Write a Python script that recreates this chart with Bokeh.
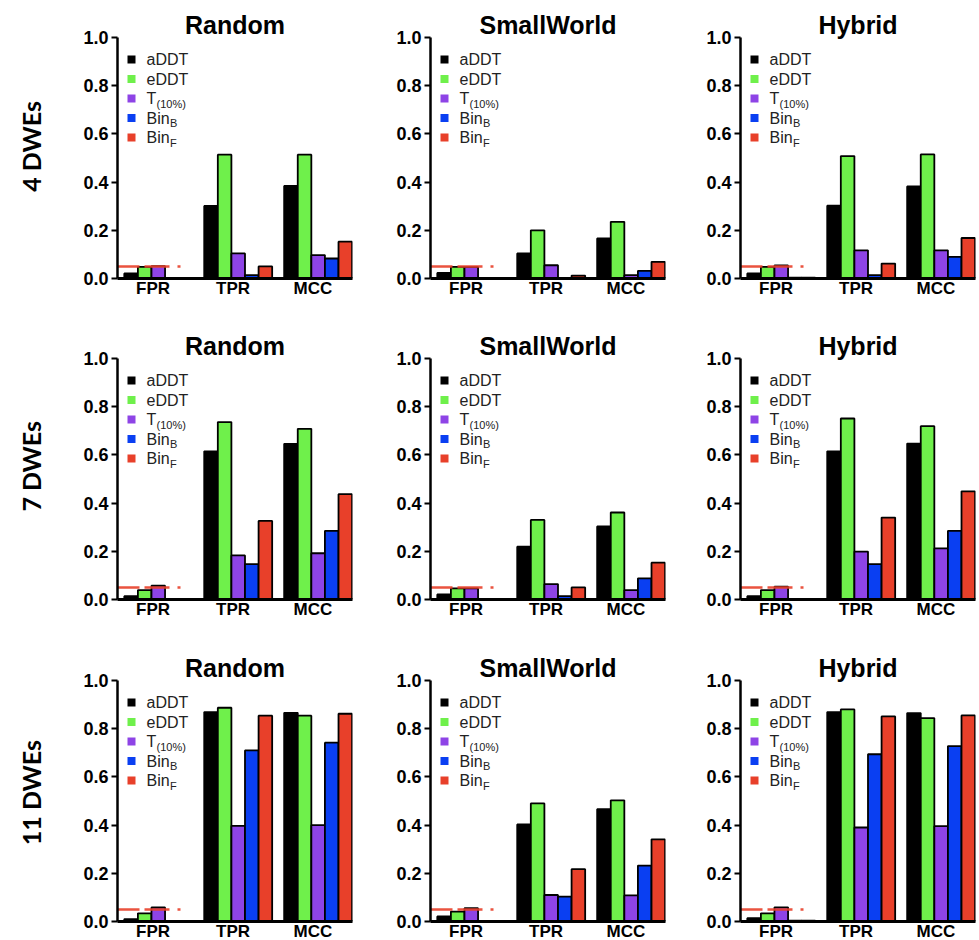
import math
from bokeh.plotting import figure
from bokeh.layouts import row, column
from bokeh.models import Range1d, FixedTicker, PrintfTickFormatter
from bokeh.core.properties import value
from bokeh.embed import file_html
from bokeh.resources import INLINE

# ---------------- data ----------------
metrics = ["FPR", "TPR", "MCC"]
methods = ["aDDT", "eDDT", "T(10%)", "BinB", "BinF"]
legend_main = ["aDDT", "eDDT", "T", "Bin", "Bin"]
legend_sub = ["", "", "(10%)", "B", "F"]
topologies = ["Random", "SmallWorld", "Hybrid"]
row_labels = ["4 DWEs", "7 DWEs", "11 DWEs"]
y_ticks = [0.0, 0.2, 0.4, 0.6, 0.8, 1.0]
fpr_target = 0.05

# each list: [FPR, TPR, MCC]
dwe4_random = {
    "aDDT": [0.021, 0.301, 0.384],
    "eDDT": [0.048, 0.514, 0.514],
    "T(10%)": [0.051, 0.104, 0.097],
    "BinB": [0.003, 0.014, 0.083],
    "BinF": [0.003, 0.050, 0.153],
}
dwe4_smallworld = {
    "aDDT": [0.023, 0.104, 0.166],
    "eDDT": [0.048, 0.200, 0.235],
    "T(10%)": [0.048, 0.055, 0.014],
    "BinB": [0.003, 0.003, 0.032],
    "BinF": [0.003, 0.012, 0.069],
}
dwe4_hybrid = {
    "aDDT": [0.021, 0.302, 0.382],
    "eDDT": [0.048, 0.508, 0.515],
    "T(10%)": [0.054, 0.117, 0.117],
    "BinB": [0.004, 0.014, 0.090],
    "BinF": [0.004, 0.062, 0.168],
}
dwe7_random = {
    "aDDT": [0.014, 0.615, 0.646],
    "eDDT": [0.039, 0.736, 0.708],
    "T(10%)": [0.057, 0.183, 0.192],
    "BinB": [0.003, 0.147, 0.285],
    "BinF": [0.003, 0.326, 0.437],
}
dwe7_smallworld = {
    "aDDT": [0.021, 0.219, 0.303],
    "eDDT": [0.046, 0.330, 0.361],
    "T(10%)": [0.046, 0.064, 0.039],
    "BinB": [0.003, 0.014, 0.088],
    "BinF": [0.003, 0.050, 0.153],
}
dwe7_hybrid = {
    "aDDT": [0.014, 0.615, 0.647],
    "eDDT": [0.039, 0.751, 0.719],
    "T(10%)": [0.053, 0.199, 0.212],
    "BinB": [0.003, 0.147, 0.285],
    "BinF": [0.003, 0.340, 0.449],
}
dwe11_random = {
    "aDDT": [0.010, 0.869, 0.866],
    "eDDT": [0.034, 0.887, 0.854],
    "T(10%)": [0.058, 0.397, 0.400],
    "BinB": [0.003, 0.710, 0.742],
    "BinF": [0.003, 0.854, 0.862],
}
dwe11_smallworld = {
    "aDDT": [0.021, 0.403, 0.466],
    "eDDT": [0.041, 0.490, 0.503],
    "T(10%)": [0.055, 0.110, 0.108],
    "BinB": [0.003, 0.103, 0.232],
    "BinF": [0.003, 0.217, 0.341],
}
dwe11_hybrid = {
    "aDDT": [0.014, 0.869, 0.865],
    "eDDT": [0.034, 0.880, 0.844],
    "T(10%)": [0.059, 0.390, 0.396],
    "BinB": [0.004, 0.694, 0.728],
    "BinF": [0.004, 0.851, 0.855],
}

panels = [
    [dwe4_random, dwe4_smallworld, dwe4_hybrid],
    [dwe7_random, dwe7_smallworld, dwe7_hybrid],
    [dwe11_random, dwe11_smallworld, dwe11_hybrid],
]

# ---------------- style ----------------
colors = ["#000000", "#6ff04b", "#8e44e6", "#0a3ff2", "#e8402a"]
FONT = "Liberation Sans"
FRAME_W = 235
FRAME_H = 241
LABEL_SHIFT = 0.065          # category labels sit slightly left of bar groups
X_START = LABEL_SHIFT - 0.51
X_END = LABEL_SHIFT + 2.43
BAR_W = 0.17
offsets = [-0.34, -0.17, 0.0, 0.17, 0.34]
ppx = (X_END - X_START) / FRAME_W   # data units per pixel (x)
ppy = 1.0 / FRAME_H                  # data units per pixel (y)
right_borders = [33, 30, 2]
top_border = 37
bottom_borders = [43, 44, 18]
label_fig_w = 72
label_y = [145, 144, 140]


def make_panel(data, title, col, r):
    p = figure(
        frame_width=FRAME_W, frame_height=FRAME_H,
        x_range=Range1d(X_START, X_END), y_range=Range1d(0, 1.0),
        toolbar_location=None, output_backend="svg", title=title,
        min_border_left=45, min_border_right=right_borders[col],
        min_border_top=top_border, min_border_bottom=bottom_borders[r],
    )
    p.outline_line_color = None
    p.grid.visible = False
    p.background_fill_color = "white"
    p.border_fill_color = "white"

    p.title.align = "center"
    p.title.text_font = FONT
    p.title.text_font_style = "bold"
    p.title.text_font_size = "25px"
    p.title.text_color = "black"
    p.title.standoff = -2

    # bars
    for i, m in enumerate(methods):
        xs = [j + LABEL_SHIFT + offsets[i] for j in range(len(metrics))]
        p.vbar(x=xs, top=data[m], bottom=0, width=BAR_W,
               fill_color=colors[i], line_color="black", line_width=1.8)

    # FPR target line
    p.line(x=[X_START, LABEL_SHIFT + 0.28], y=[fpr_target, fpr_target],
           line_color="#e8402a", line_width=2.5, line_alpha=0.9,
           line_dash="22 5 25 8 3 8")

    # legend (manual, to allow subscripts)
    sq_x = X_START + 14 * ppx
    tx_x = X_START + 29 * ppx
    ys = [1.0 - (22 + 19.5 * k) * ppy for k in range(len(methods))]
    p.scatter(x=[sq_x] * len(methods), y=ys, marker="square", size=8,
              fill_color=colors, line_color=None)
    p.text(x=[tx_x] * len(methods), y=ys, text=legend_main,
           text_font=value(FONT), text_font_size="16px",
           text_color="#222222", text_baseline="middle", text_align="left")
    sub_dx = {"T": 10.0, "Bin": 23.5}
    sx, sy, st = [], [], []
    for k in range(len(methods)):
        if legend_sub[k]:
            sx.append(tx_x + sub_dx[legend_main[k]] * ppx)
            sy.append(ys[k] - 5 * ppy)
            st.append(legend_sub[k])
    p.text(x=sx, y=sy, text=st, text_font=value(FONT), text_font_size="11px",
           text_color="#222222", text_baseline="middle", text_align="left")

    # axes
    ya = p.yaxis[0]
    ya.ticker = FixedTicker(ticks=y_ticks)
    ya.formatter = PrintfTickFormatter(format="%.1f")
    ya.major_label_text_font = FONT
    ya.major_label_text_font_style = "bold"
    ya.major_label_text_font_size = "18px"
    ya.major_label_text_color = "black"
    ya.major_tick_out = 6
    ya.major_tick_in = 0
    ya.major_tick_line_width = 2
    ya.minor_tick_line_color = None
    ya.axis_line_width = 2.5
    ya.major_label_standoff = 3

    xa = p.xaxis[0]
    xa.ticker = FixedTicker(ticks=list(range(len(metrics))))
    xa.major_label_overrides = {j: m for j, m in enumerate(metrics)}
    xa.major_label_text_font = FONT
    xa.major_label_text_font_style = "bold"
    xa.major_label_text_font_size = "17px"
    xa.major_label_text_color = "black"
    xa.major_tick_out = 0
    xa.major_tick_in = 0
    xa.minor_tick_line_color = None
    xa.axis_line_width = 3
    xa.major_label_standoff = 0
    return p


def make_label(text, h, yc):
    f = figure(width=label_fig_w, height=h, x_range=Range1d(0, label_fig_w),
               y_range=Range1d(h, 0), x_axis_type=None, y_axis_type=None,
               toolbar_location=None, output_backend="svg", min_border=0,
               title=None)
    f.outline_line_color = None
    f.grid.visible = False
    f.text(x=[30], y=[yc], text=[text], angle=math.pi / 2,
           text_align="center", text_baseline="middle",
           text_font=value("Lato"), text_font_style="bold",
           text_font_size="25px", text_color="black")
    return f


rows = []
for r in range(3):
    h = top_border + FRAME_H + bottom_borders[r]
    figs = [make_label(row_labels[r], h, label_y[r])]
    for c in range(3):
        figs.append(make_panel(panels[r][c], topologies[c], c, r))
    rows.append(row(*figs))

layout = column(*rows)
open("out.html", "w").write(file_html(layout, INLINE))
